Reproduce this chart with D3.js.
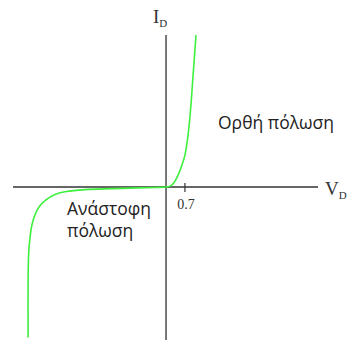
<!DOCTYPE html>
<html>
<head>
<meta charset="utf-8">
<script src="https://cdn.jsdelivr.net/npm/d3@7"></script>
<style>
  html, body { margin: 0; padding: 0; background: #fff; }
  svg { display: block; }
</style>
</head>
<body>
<svg id="chart" width="348" height="340"></svg>
<script>
// Diode I–V characteristic (schematic): voltage in V, current in arbitrary units
const reverseV = [-5.11, -5.11, -5.09, -5.05, -4.97, -4.86, -4.7, -4.45, -4.15, -3.7, -3.0, -2.0, -1.0, -0.4, 0];
const reverseI = [-9.9, -6.0, -4.4, -3.5, -2.5, -1.85, -1.3, -0.85, -0.52, -0.3, -0.17, -0.11, -0.06, -0.03, 0];
const forwardV = [0, 0.15, 0.3, 0.45, 0.6, 0.7, 0.8, 0.9, 1.0, 1.11];
const forwardI = [0, 0.06, 0.3, 0.8, 1.5, 2.1, 3.2, 4.9, 7.3, 10.0];
const tickValues = [0.7];
const tickLabels = ["0.7"];
const xAxisLabel = ["V", "D"];
const yAxisLabel = ["I", "D"];
const forwardText = "Ορθή πόλωση";
const reverseText = ["Ανάστοφη", "πόλωση"];

const svg = d3.select("#chart");

const x = d3.scaleLinear().domain([-5.67, 5.63]).range([13, 318]);
const y = d3.scaleLinear().domain([-10, 10]).range([339, 35]);

const points = reverseV.map((v, i) => [v, reverseI[i]])
  .concat(forwardV.slice(1).map((v, i) => [v, forwardI[i + 1]]));

// axes through the origin
svg.append("line")
  .attr("x1", x(-5.67)).attr("x2", x(5.63))
  .attr("y1", y(0)).attr("y2", y(0))
  .attr("stroke", "#333").attr("stroke-width", 1.3);
svg.append("line")
  .attr("x1", x(0)).attr("x2", x(0))
  .attr("y1", y(10)).attr("y2", 340)
  .attr("stroke", "#555").attr("stroke-width", 1.6);

// tick marks
svg.selectAll(".tick").data(tickValues).enter().append("line")
  .attr("x1", d => x(d)).attr("x2", d => x(d))
  .attr("y1", y(0) - 4).attr("y2", y(0) + 5)
  .attr("stroke", "#333").attr("stroke-width", 1.2);
svg.selectAll(".ticklabel").data(tickValues).enter().append("text")
  .attr("x", d => x(d) + 1).attr("y", y(0) + 22)
  .attr("text-anchor", "middle")
  .attr("font-family", "'Liberation Serif', 'DejaVu Serif', serif")
  .attr("font-size", 14).attr("fill", "#333")
  .text((d, i) => tickLabels[i]);

// characteristic curve
const line = d3.line()
  .x(d => x(d[0])).y(d => y(d[1]))
  .curve(d3.curveCatmullRom.alpha(0.5));
svg.append("path")
  .datum(points)
  .attr("d", line)
  .attr("fill", "none")
  .attr("stroke", "#3ef03e")
  .attr("stroke-width", 1.6);

// axis titles with subscripts
const serif = "'Liberation Serif', 'DejaVu Serif', serif";
const yl = svg.append("text").attr("x", 153).attr("y", 23)
  .attr("font-family", serif).attr("font-size", 19).attr("fill", "#333");
yl.append("tspan").text(yAxisLabel[0]);
yl.append("tspan").attr("font-size", 11).attr("dy", 4).text(yAxisLabel[1]);

const xl = svg.append("text").attr("x", 325).attr("y", 195)
  .attr("font-family", serif).attr("font-size", 19).attr("fill", "#333");
xl.append("tspan").text(xAxisLabel[0]);
xl.append("tspan").attr("font-size", 11).attr("dy", 4).text(xAxisLabel[1]);

// region annotations
const sans = "'Open Sans', 'Noto Sans', sans-serif";
svg.append("text").attr("x", 218).attr("y", 129)
  .attr("font-family", sans).attr("font-size", 17.5).attr("fill", "#222")
  .text(forwardText);
svg.selectAll(".rev").data(reverseText).enter().append("text")
  .attr("x", 67).attr("y", (d, i) => 215 + i * 22)
  .attr("font-family", sans).attr("font-size", 17.5).attr("fill", "#222")
  .text(d => d);
</script>
</body>
</html>
